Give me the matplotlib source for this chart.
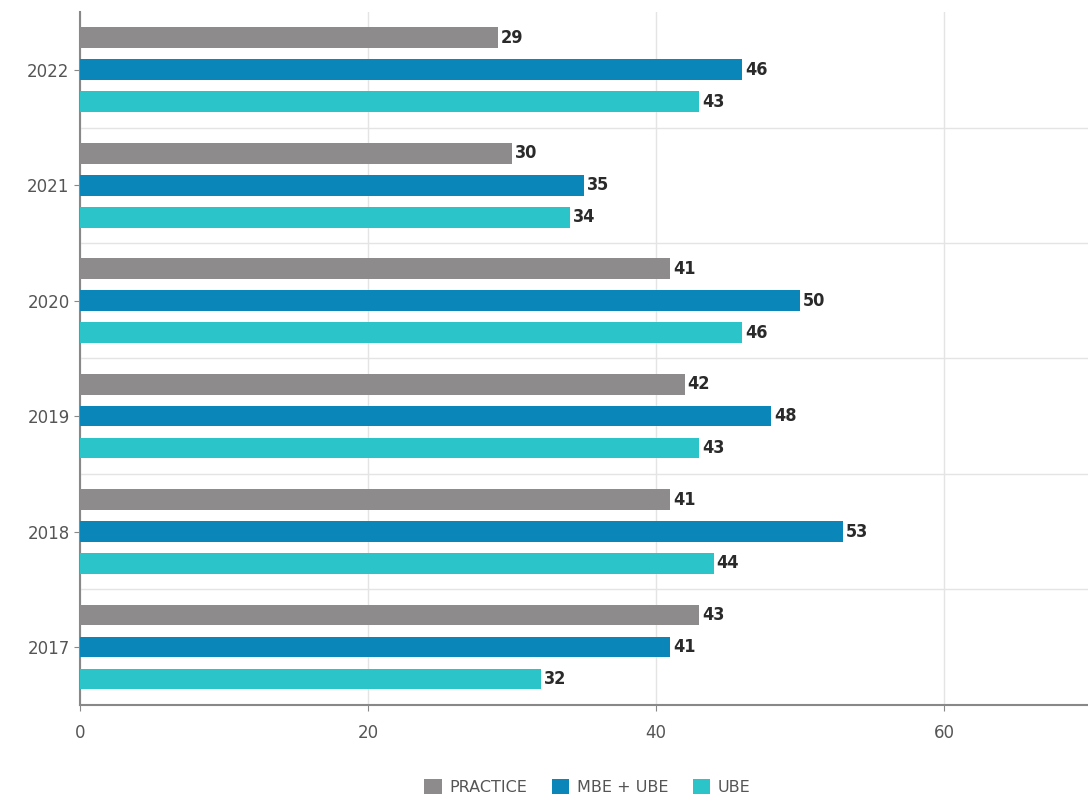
import numpy as np
import matplotlib.pyplot as plt

years = ['2017', '2018', '2019', '2020', '2021', '2022']
practice = [43, 41, 42, 41, 30, 29]
mbe_ube = [41, 53, 48, 50, 35, 46]
ube = [32, 44, 43, 46, 34, 43]

series = [('PRACTICE', practice, '#8d8b8c'),
          ('MBE + UBE', mbe_ube, '#0b86b9'),
          ('UBE', ube, '#2bc5c9')]

fig = plt.figure(figsize=(10.88, 8.09), dpi=100)
ax = fig.add_axes([0.0735, 0.129, 0.9265, 0.856])

y = np.arange(len(years))
offsets = [0.277, 0, -0.277]
h = 0.18
for (name, vals, col), off in zip(series, offsets):
    bars = ax.barh(y + off, vals, height=h, color=col, label=name, zorder=3)
    for b, v in zip(bars, vals):
        ax.text(b.get_width() + 0.2, b.get_y() + h / 2, str(v), va='center', ha='left',
                fontsize=13, fontweight='bold', fontstretch='condensed', color='#2a2a2a',
                family='DejaVu Sans')

ax.set_xlim(0, 70)
ax.set_ylim(-0.5, 5.5)
ax.set_yticks(y)
ax.set_yticklabels(years)
ax.set_xticks([0, 20, 40, 60])
ax.set_yticks(np.arange(0.5, 5.5, 1), minor=True)
ax.tick_params(which='minor', length=0)
ax.tick_params(axis='both', labelsize=12, labelcolor='#555555', color='#888888', length=4)
ax.tick_params(axis='x', pad=10)
ax.grid(axis='x', which='major', color='#e4e4e4', lw=1, zorder=0)
ax.grid(axis='y', which='minor', color='#e4e4e4', lw=1, zorder=0)

for s in ['top', 'right']:
    ax.spines[s].set_visible(False)
for s in ['left', 'bottom']:
    ax.spines[s].set_color('#888888')
    ax.spines[s].set_linewidth(1.5)

fig.legend(loc='lower center', bbox_to_anchor=(0.54, 0.0), ncol=3, frameon=False,
           fontsize=11.5, labelcolor='#555555', handlelength=1.1, handleheight=1.1,
           handletextpad=0.5, columnspacing=1.5)

fig.savefig('out.png', dpi=100)
